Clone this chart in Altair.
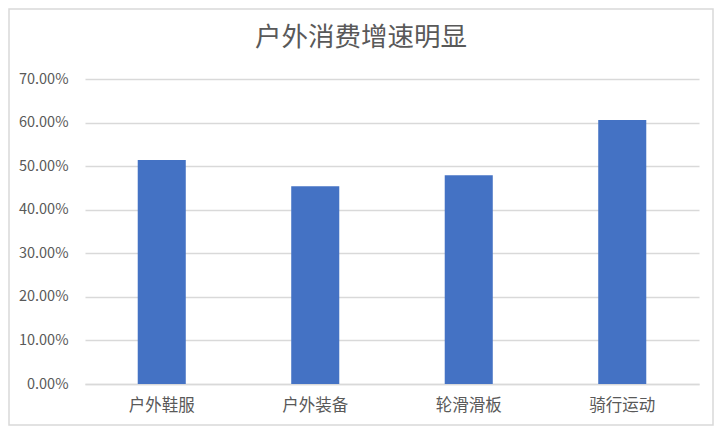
import altair as alt
import pandas as pd

categories = ["户外鞋服", "户外装备", "轮滑滑板", "骑行运动"]
values = [0.514, 0.454, 0.479, 0.606]
y_ticks = [0.0, 0.1, 0.2, 0.3, 0.4, 0.5, 0.6, 0.7]

df = pd.DataFrame({"类别": categories, "增速": values})

FONT = "Noto Sans CJK SC"
GREY = "#595959"

bars = alt.Chart(df).mark_bar(color="#4472C4").encode(
    x=alt.X("类别:N", sort=categories, title=None,
            scale=alt.Scale(paddingInner=0.687, paddingOuter=0.3435),
            axis=alt.Axis(labelAngle=0, ticks=False, domainColor="#d9d9d9",
                          domainWidth=1.5, labelFontSize=16.5, labelColor=GREY,
                          labelFont=FONT, labelPadding=13, grid=False)),
    y=alt.Y("增速:Q", title=None,
            scale=alt.Scale(domain=[0, 0.7], nice=False),
            axis=alt.Axis(values=y_ticks, format=".2%", domain=False, ticks=False,
                          gridColor="#d9d9d9", gridWidth=1.5, labelFontSize=14.5,
                          labelColor=GREY, labelFont=FONT, labelPadding=17)),
)

frame = alt.Chart(pd.DataFrame({"k": [0]})).mark_rect(
    fill="transparent", stroke="#d9d9d9", strokeWidth=1.5, clip=False
).encode(
    x=alt.value(-76), x2=alt.value(628), y=alt.value(-70), y2=alt.value(346)
)

chart = alt.layer(frame, bars).properties(
    width=614,
    height=305,
    title=alt.TitleParams("户外消费增速明显", fontSize=26.5, font=FONT, color=GREY,
                          fontWeight="normal", anchor="middle", dx=-31, offset=-43),
    autosize=alt.AutoSizeParams(type="none"),
    padding={"left": 77, "top": 71, "right": 15, "bottom": 42},
).configure_view(stroke=None)

chart.save("out.html", embed_options={"renderer": "svg", "actions": False})
